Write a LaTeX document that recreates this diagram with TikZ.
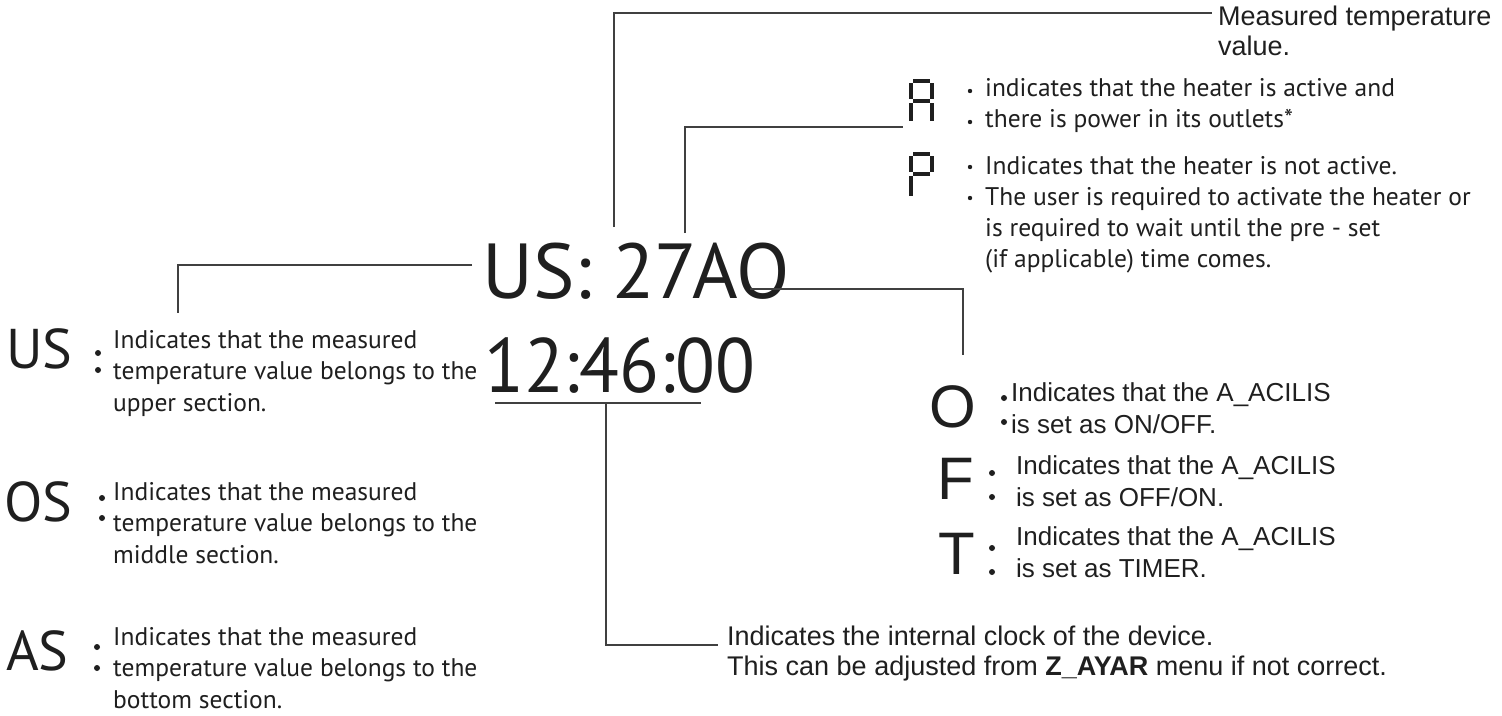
\documentclass[tikz,border=0pt]{standalone}
\usepackage{fontspec}
\setmainfont{PT Sans}
\newfontfamily\clockfont[FakeStretch=0.95]{PT Sans}
\newfontfamily\arialfont{Liberation Sans}
\usepackage{tikz}
\usetikzlibrary{positioning}
\tikzset{
 lead/.style={draw=black!75,line width=1.2pt},
 seg/.style={line width=3.6pt,black!88},
 disp/.style={anchor=base west,inner sep=0pt,text=black!88,font=\fontsize{78}{80}\selectfont},
 biglbl/.style={anchor=base west,inner sep=0pt,text=black!88,font=\fontsize{56}{56}\selectfont},
 desc/.style={anchor=base west,inner sep=0pt,align=left,text=black!88,font=\fontsize{25.5}{31.5}\selectfont},
 adesc/.style={anchor=base west,inner sep=0pt,align=left,text=black!88,font=\fontsize{25.5}{31}\selectfont},
 olbl/.style={anchor=base west,inner sep=0pt,text=black!88,font=\arialfont\fontsize{60}{60}\selectfont},
 odesc/.style={anchor=base west,inner sep=0pt,align=left,text=black!88,font=\arialfont\fontsize{26}{32}\selectfont},
 ndesc/.style={anchor=base west,inner sep=0pt,align=left,text=black!88,font=\arialfont\fontsize{27}{30}\selectfont},
}

\begin{document}
\begin{tikzpicture}[x=1pt,y=-1pt]
 \useasboundingbox (0,0) rectangle (1502,715);

 % display
 \node[disp] (temp) at (482,298) {US: 27AO};
 \node[disp,font=\clockfont\fontsize{77}{80}\selectfont] (clock) at (484,392) {12:46:00};

 % measured value
 \node[ndesc] (meas) at (1218,55) {Measured temperature\\value.};

 % heater state A / P
 \draw[seg] (913,81) -- (930,81) (911,83) -- (911,99) (932,83) -- (932,99)
  (913,101) -- (930,101) (911,103) -- (911,121) (932,103) -- (932,121);
 \draw[seg] (913,154) -- (930,154) (911,156) -- (911,172) (932,156) -- (932,172)
  (913,174) -- (930,174) (911,176) -- (911,196);
 \node[adesc] (adesc) at (985,127) {indicates that the heater is active and\\there is power in its outlets*};
 \node[adesc] (pdesc) at (985,267) {Indicates that the heater is not active.\\The user is required to activate the heater or\\is required to wait until the pre - set\\(if applicable) time comes.};
 \foreach \y in {91,122,167,198}
  \fill[black!88] (970,\y) circle[radius=2.2pt];

 % sections
 \node[biglbl] (us) at (6,368) {US};
 \node[biglbl] (os) at (4,521) {OS};
 \node[biglbl] (as) at (6,670) {AS};
 \node[desc] (usdesc) at (113,411) {Indicates that the measured\\temperature value belongs to the\\upper section.};
 \node[desc] (osdesc) at (113,563) {Indicates that the measured\\temperature value belongs to the\\middle section.};
 \node[desc] (asdesc) at (113,708) {Indicates that the measured\\temperature value belongs to the\\bottom section.};
 \foreach \x/\y in {98/353,98/370,102/498,102/518,97/647,97/668}
  \fill[black!88] (\x,\y) circle[radius=3pt];

 % A_ACILIS modes
 \node[olbl] (o) at (929,427) {O};
 \node[olbl] (f) at (937,499) {F};
 \node[olbl] (t) at (938,574) {T};
 \node[odesc] (odesc) at (1011,433) {Indicates that the A\_ACILIS\\is set as ON/OFF.};
 \node[odesc] (fdesc) at (1016,506) {Indicates that the A\_ACILIS\\is set as OFF/ON.};
 \node[odesc] (tdesc) at (1016,577) {Indicates that the A\_ACILIS\\is set as TIMER.};
 \foreach \x/\y in {1004/398,1004/422,992/473,992/497,992/548,992/572}
  \fill[black!88] (\x,\y) circle[radius=3pt];

 % clock note
 \node[ndesc] (cdesc) at (727,675) {Indicates the internal clock of the device.\\This can be adjusted from \textbf{Z\_AYAR} menu if not correct.};

 % leaders
 \coordinate (mtop) at (614,227);
 \coordinate (mend) at (1212,13);
 \coordinate (atop) at (685,233);
 \coordinate (aend) at (903,127);
 \coordinate (uend) at (472,265);
 \coordinate (ubot) at (178,313);
 \coordinate (oend) at (750,289);
 \coordinate (obot) at (963,355);
 \coordinate (cl) at (495,403);
 \coordinate (cr) at (701,403);
 \coordinate (cmid) at (606,403);
 \coordinate (cend) at (718,645);
 \draw[lead] (mtop) |- (mend);
 \draw[lead] (atop) |- (aend);
 \draw[lead] (uend) -| (ubot);
 \draw[lead] (oend) -| (obot);
 \draw[lead] (cl) -- (cr);
 \draw[lead] (cmid) |- (cend);
\end{tikzpicture}
\end{document}
